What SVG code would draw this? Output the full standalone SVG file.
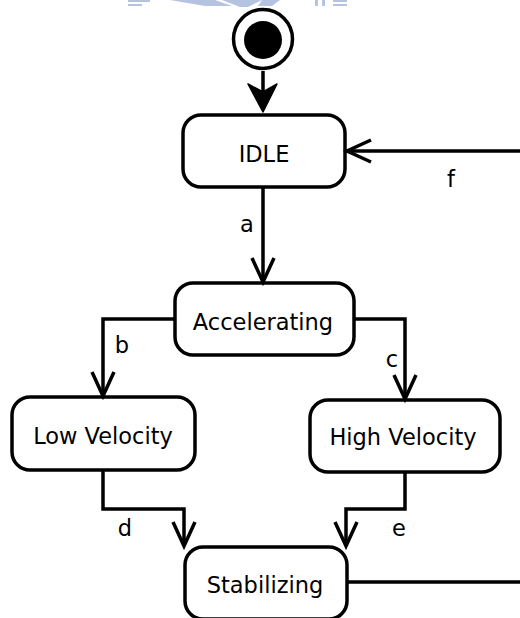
<svg xmlns="http://www.w3.org/2000/svg" width="520" height="618" viewBox="0 0 520 618">
  <style>
    .node rect { fill: #ffffff; stroke: #000000; stroke-width: 3.5; }
    .label { font-family: "DejaVu Sans", Verdana, sans-serif; font-size: 22.5px; fill: #000000; text-anchor: middle; }
    .edge { fill: none; stroke: #000000; stroke-width: 3.5; }
    .wm { fill: #b3c3e0; }
  </style>
  <defs>
    <marker id="open" markerUnits="userSpaceOnUse" markerWidth="40" markerHeight="40" viewBox="-30 -20 40 40" refX="0" refY="0" orient="auto" overflow="visible">
      <path d="M-24,-11 L0,0 L-24,11" fill="none" stroke="#000" stroke-width="3.5"/>
    </marker>
  </defs>

  <!-- watermark remnants -->
  <g id="watermark">
    <rect class="wm" x="128" y="0" width="22" height="2"/>
    <rect class="wm" x="128" y="4" width="14" height="2"/>
    <polygon class="wm" points="170,0 215,0 232,6 205,6"/>
    <polygon class="wm" points="222,0 262,0 248,7 240,7"/>
    <polygon class="wm" points="262,0 280,0 272,6 258,6"/>
    <rect class="wm" x="315" y="0" width="3" height="6"/>
    <rect class="wm" x="322" y="0" width="3" height="6"/>
    <rect class="wm" x="333" y="0" width="14" height="2"/>
    <rect class="wm" x="333" y="4" width="14" height="2"/>
  </g>

  <g id="start">
    <circle cx="263" cy="39" r="29.5" fill="#fff" stroke="#000" stroke-width="3.5"/>
    <circle cx="263" cy="40" r="19" fill="#000"/>
  </g>

  <g id="IDLE" class="node">
    <rect x="183" y="115" width="162" height="72" rx="18"/>
    <text class="label" x="264" y="162">IDLE</text>
  </g>
  <g id="Accelerating" class="node">
    <rect x="175" y="283" width="179" height="72" rx="18"/>
    <text class="label" x="263" y="330">Accelerating</text>
  </g>
  <g id="LowVelocity" class="node">
    <rect x="12" y="397" width="183" height="73" rx="18"/>
    <text class="label" x="103" y="444">Low Velocity</text>
  </g>
  <g id="HighVelocity" class="node">
    <rect x="310" y="400" width="190" height="72" rx="18"/>
    <text class="label" x="403" y="445">High Velocity</text>
  </g>
  <g id="Stabilizing" class="node">
    <rect x="185" y="547" width="162" height="72" rx="18"/>
    <text class="label" x="265" y="593">Stabilizing</text>
  </g>

  <g id="connectors">
    <path class="edge" d="M263,71 V95"/>
    <path d="M248,84 L263,92 L277,84 L263,112 Z" fill="#000" stroke="#000" stroke-width="1.5" stroke-linejoin="round"/>
    <path class="edge" d="M263,187 V282" marker-end="url(#open)"/>
    <path class="edge" d="M175,319 H103 V396" marker-end="url(#open)"/>
    <path class="edge" d="M354,319 H405 V399" marker-end="url(#open)"/>
    <path class="edge" d="M103,470 V509 H184 V546" marker-end="url(#open)"/>
    <path class="edge" d="M405,472 V509 H346 V546" marker-end="url(#open)"/>
    <path class="edge" d="M347,582 H530 V151 H347" marker-end="url(#open)"/>
    <text class="label" x="247" y="232">a</text>
    <text class="label" x="122" y="353">b</text>
    <text class="label" x="392" y="367">c</text>
    <text class="label" x="125" y="536">d</text>
    <text class="label" x="399" y="536">e</text>
    <text class="label" x="451" y="187">f</text>
  </g>
</svg>
